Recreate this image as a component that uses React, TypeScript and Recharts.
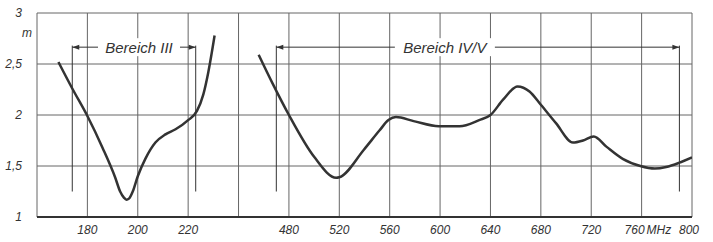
import { CartesianGrid, Line, LineChart, ReferenceLine, XAxis, YAxis } from 'recharts';

// Band III (VHF), frequency in MHz and height in m
const bandIIIFreq = [168.5, 174, 180, 186, 191, 193, 194.5, 195.5, 196.5, 198, 200, 203, 207, 211, 215, 220, 223.5, 226, 228, 230.5];
const bandIIIHeight = [2.52, 2.26, 1.99, 1.68, 1.39, 1.25, 1.19, 1.17, 1.18, 1.25, 1.4, 1.57, 1.73, 1.81, 1.86, 1.95, 2.04, 2.2, 2.42, 2.78];

// Band IV/V (UHF)
const bandIVVFreq = [456, 467, 480, 500, 517.5, 520, 539.5, 552, 559, 565, 579, 599, 615.5, 631, 640, 650, 661.5, 671, 680, 692, 705.5, 713.5, 722, 732, 745, 759, 770.5, 779.5, 789.5, 800];
const bandIVVHeight = [2.59, 2.31, 2.0, 1.59, 1.385, 1.39, 1.66, 1.85, 1.95, 1.98, 1.94, 1.89, 1.89, 1.95, 2.0, 2.15, 2.28, 2.23, 2.1, 1.92, 1.73, 1.75, 1.79, 1.69, 1.57, 1.5, 1.475, 1.49, 1.53, 1.585];

// the x axis is broken: grid positions carry the UHF scale, the first ones are labelled in VHF
const xTicks = [280, 320, 360, 400, 440, 480, 520, 560, 600, 640, 680, 720, 760, 800];
const xTickLabels = ['', '180', '200', '220', '', '480', '520', '560', '600', '640', '680', '720', '760', '800'];
const yTicks = [1, 1.5, 2, 2.5, 3];
const yTickLabels = ['1', '1,5', '2', '2,5', '3'];

const bandIIILimits = [174, 223];
const bandIVVLimits = [470, 790];
const markerSpan = [1.25, 2.68];
const markerLevel = 2.665;

const vhfData = bandIIIFreq.map((f, i) => ({ f, h: bandIIIHeight[i] }));
const uhfData = bandIVVFreq.map((f, i) => ({ f, h: bandIVVHeight[i] }));

const INK = '#333';
const GRID = '#666';
const FONT = "'Liberation Sans', 'DejaVu Sans', sans-serif";

const XTick = (props: any) => {
  const { x, y, payload } = props;
  const label = xTickLabels[xTicks.indexOf(payload.value)];
  if (!label) return null;
  const common = { y, dy: '0.71em', fill: INK, fontSize: 12, fontStyle: 'italic', fontFamily: FONT };
  if (label === '760') {
    return (
      <g>
        <text {...common} x={x - 7} textAnchor="middle">{label}</text>
        <text {...common} x={x + 5} textAnchor="start">MHz</text>
      </g>
    );
  }
  return (
    <text {...common} x={label === '800' ? x - 3 : x} textAnchor="middle">{label}</text>
  );
};

const YTick = (props: any) => {
  const { x, y, payload } = props;
  const label = yTickLabels[yTicks.indexOf(payload.value)];
  const common = { fill: INK, fontSize: 12, fontStyle: 'italic', fontFamily: FONT };
  return (
    <g>
      <text {...common} x={x} y={y} dy="0.35em" textAnchor="end">{label}</text>
      {payload.value === 3 && (
        <text {...common} x={x} y={y + 20} dy="0.35em" textAnchor="start">m</text>
      )}
    </g>
  );
};

function bracket(text: string, shift: number, boxWidth: number) {
  return (p: any) => {
    const { x1, x2, y1 } = p;
    const cx = (x1 + x2) / 2 + shift;
    return (
      <g>
        <line x1={x1} y1={y1} x2={x2} y2={y1} stroke={INK} strokeWidth={1} />
        <path d={`M${x1},${y1} l7,-2.5 v5 z`} fill={INK} />
        <path d={`M${x2},${y1} l-7,-2.5 v5 z`} fill={INK} />
        <rect x={cx - boxWidth / 2} y={y1 - 9} width={boxWidth} height={18} fill="#fff" />
        <text
          x={cx}
          y={y1}
          dy="0.36em"
          textAnchor="middle"
          fill={INK}
          fontSize={15}
          fontStyle="italic"
          fontFamily={FONT}
        >
          {text}
        </text>
      </g>
    );
  };
}

export default function App() {
  return (
    <div style={{ position: 'absolute', left: 0, top: 0, background: '#fff' }}>
      <LineChart width={713} height={242} margin={{ top: 13, right: 21, bottom: 0, left: 0 }}>
        <CartesianGrid xAxisId="uhf" stroke={GRID} strokeWidth={1} />
        <XAxis
          xAxisId="uhf"
          type="number"
          dataKey="f"
          domain={[280, 800]}
          ticks={xTicks}
          interval={0}
          tick={<XTick />}
          tickLine={false}
          axisLine={{ stroke: INK, strokeWidth: 2 }}
          height={25}
          allowDataOverflow
        />
        <XAxis xAxisId="vhf" type="number" dataKey="f" domain={[160, 420]} hide allowDataOverflow />
        <YAxis
          type="number"
          domain={[1, 3]}
          ticks={yTicks}
          interval={0}
          tick={<YTick />}
          tickLine={false}
          axisLine={false}
          tickMargin={9}
          width={37}
        />
        {bandIIILimits.map((f) => (
          <ReferenceLine
            key={`III-${f}`}
            xAxisId="vhf"
            segment={[{ x: f, y: markerSpan[0] }, { x: f, y: markerSpan[1] }]}
            stroke={INK}
            strokeWidth={1}
          />
        ))}
        {bandIVVLimits.map((f) => (
          <ReferenceLine
            key={`IV-${f}`}
            xAxisId="uhf"
            segment={[{ x: f, y: markerSpan[0] }, { x: f, y: markerSpan[1] }]}
            stroke={INK}
            strokeWidth={1}
          />
        ))}
        <ReferenceLine
          xAxisId="vhf"
          segment={[{ x: bandIIILimits[0], y: markerLevel }, { x: bandIIILimits[1], y: markerLevel }]}
          shape={bracket('Bereich III', 5, 82)}
        />
        <ReferenceLine
          xAxisId="uhf"
          segment={[{ x: bandIVVLimits[0], y: markerLevel }, { x: bandIVVLimits[1], y: markerLevel }]}
          shape={bracket('Bereich IV/V', -33, 100)}
        />
        <Line
          xAxisId="vhf"
          data={vhfData}
          dataKey="h"
          type="monotone"
          stroke={INK}
          strokeWidth={2.5}
          dot={false}
          isAnimationActive={false}
        />
        <Line
          xAxisId="uhf"
          data={uhfData}
          dataKey="h"
          type="monotone"
          stroke={INK}
          strokeWidth={2.5}
          dot={false}
          isAnimationActive={false}
        />
      </LineChart>
    </div>
  );
}
